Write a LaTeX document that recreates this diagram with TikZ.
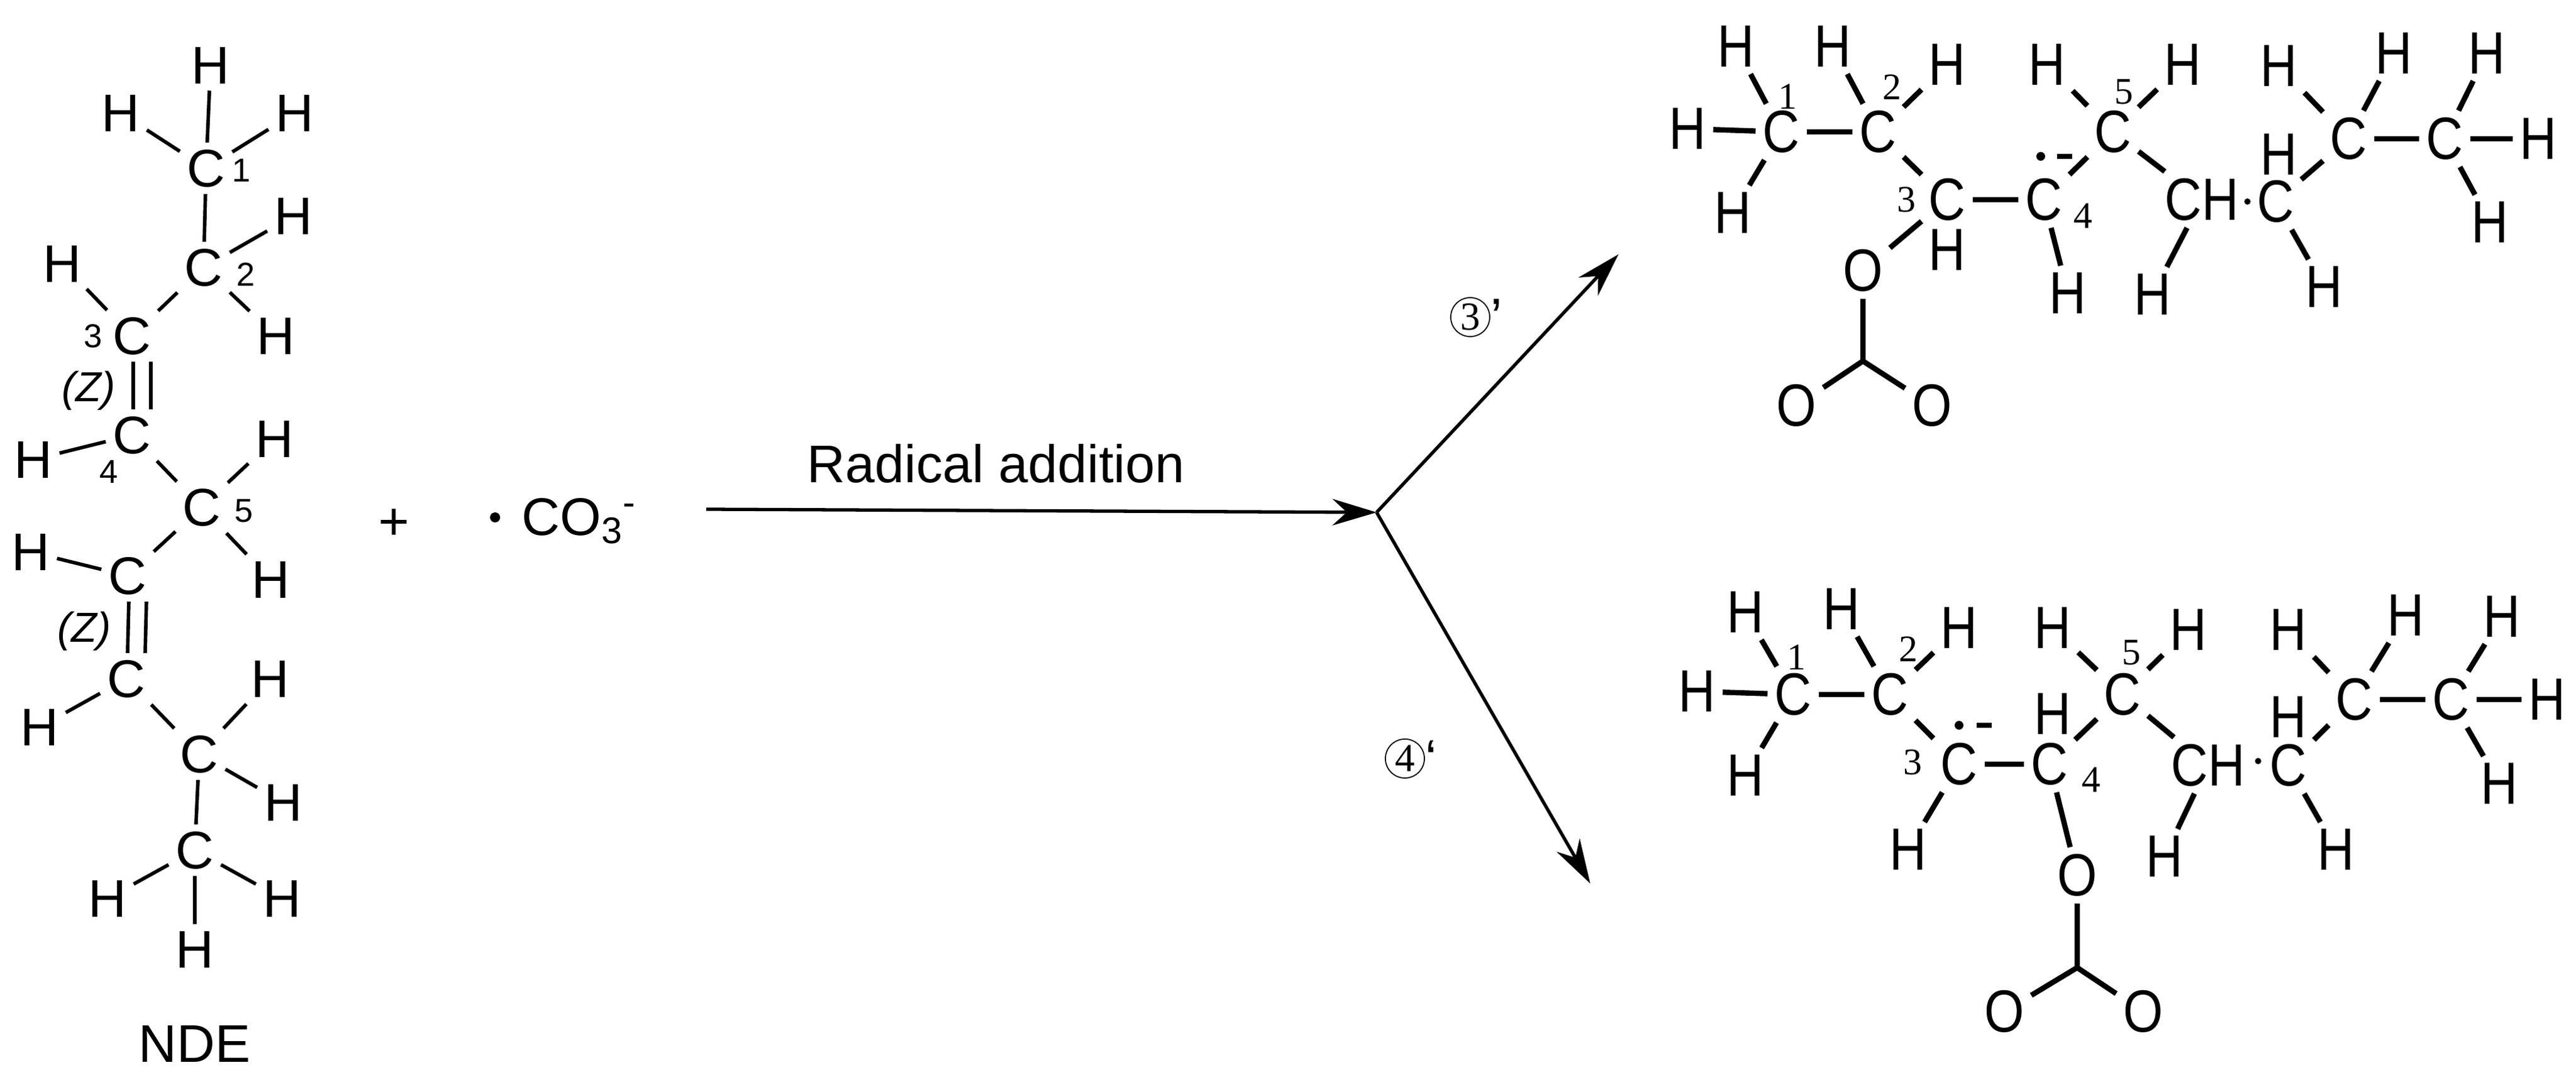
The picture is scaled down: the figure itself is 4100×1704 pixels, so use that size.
\documentclass[tikz,border=0pt]{standalone}
\usepackage{fontspec}
\setmainfont{Liberation Sans}
\newfontfamily\serifnum{Liberation Serif}
\usetikzlibrary{arrows.meta}
\newsavebox\narrowbox
\tikzset{
 la/.style={font=\fontsize{24}{28}\selectfont, inner sep=3pt},
 lnum/.style={font=\fontsize{15}{18}\selectfont, inner sep=0pt},
 ra/.style={font=\fontsize{27}{30}\selectfont, inner sep=3pt, execute at begin node={\setbox\narrowbox\hbox\bgroup}, execute at end node={\egroup\scalebox{0.86}[1]{\usebox\narrowbox}}},
 rnum/.style={font=\serifnum\fontsize{17}{18}\selectfont, inner sep=0pt},
 lb/.style={line width=1.6pt},
 rb/.style={line width=2.4pt},
 arr/.style={line width=1.5pt,-{Stealth[length=20pt,width=12pt]}},
 txt/.style={font=\fontsize{24}{28}\selectfont, inner sep=0pt},
 circ/.style={circle,draw,line width=0.5pt,inner sep=0pt,minimum size=0.62cm,font=\serifnum\fontsize{18}{20}\selectfont},
}
\begin{document}
\begin{tikzpicture}[x=0.01cm,y=-0.01cm]
\useasboundingbox (0,0) rectangle (4100,1704);
% ---------- left molecule ----------
\node[la] (h1t) at (335,104) {H};
\node[la] (h1l) at (192,180) {H};
\node[la] (h1r) at (469,180) {H};
\node[la] (c1) at (328,268) {C};
\node[lnum] at (384,271) {1};
\node[la] (c2) at (324,426) {C};
\node[lnum] at (391,437) {2};
\node[la] (h2a) at (467,344) {H};
\node[la] (h2b) at (439,535) {H};
\node[la] (h3) at (99,420) {H};
\node[la] (c3) at (210,535) {C};
\node[lnum] at (148,535) {3};
\node[txt,font=\itshape\fontsize{19}{22}\selectfont] (z1) at (141,622) {(Z)};
\node[la] (c4) at (210,693) {C};
\node[lnum] at (173,751) {4};
\node[la] (h4) at (53,732) {H};
\node[la] (c5) at (321,808) {C};
\node[lnum] at (388,814) {5};
\node[la] (h5a) at (437,699) {H};
\node[la] (h5b) at (431,923) {H};
\node[la] (h6) at (49,879) {H};
\node[la] (c6) at (203,917) {C};
\node[txt,font=\itshape\fontsize{19}{22}\selectfont] (z2) at (134,1005) {(Z)};
\node[la] (c7) at (201,1081) {C};
\node[la] (h7) at (63,1158) {H};
\node[la] (c8) at (317,1201) {C};
\node[la] (h8a) at (430,1081) {H};
\node[la] (h8b) at (451,1278) {H};
\node[la] (c9) at (310,1354) {C};
\node[la] (h9a) at (171,1431) {H};
\node[la] (h9b) at (449,1431) {H};
\node[la] (h9c) at (310,1512) {H};
\node[la] (nde) at (310,1662) {NDE};
\draw[lb] (c1)--(h1t) (c1)--(h1l) (c1)--(h1r) (c1)--(c2) (c2)--(h2a) (c2)--(h2b)
 (c2)--(c3) (c3)--(h3) (c4)--(h4) (c4)--(c5) (c5)--(h5a) (c5)--(h5b) (c5)--(c6)
 (c6)--(h6) (c7)--(h7) (c7)--(c8) (c8)--(h8a) (c8)--(h8b) (c8)--(c9)
 (c9)--(h9a) (c9)--(h9b) (c9)--(h9c);
\draw[lb] ([xshift=0.02cm]c3.south) -- ([xshift=0.02cm]c4.north);
\draw[lb] ([xshift=0.30cm]c3.south) -- ([xshift=0.30cm]c4.north);
\draw[lb] ([xshift=0.02cm]c6.south) -- ([xshift=0.02cm]c7.north);
\draw[lb] ([xshift=0.30cm]c6.south) -- ([xshift=0.30cm]c7.north);
% plus and carbonate radical
\node[txt] (plus) at (627,835) {+};
\fill (788,824) circle (8);
\node[txt,anchor=west] (co3) at (830,830) {CO\textsubscript{3}\textsuperscript{-}};
% ---------- arrows ----------
\coordinate (a0) at (1124,811);
\coordinate (a1) at (2191,816);
\coordinate (a2) at (2576,405);
\coordinate (a3) at (2531,1407);
\draw[arr] (a0) -- (a1);
\draw[arr] (a1) -- (a2);
\draw[arr] (a1) -- (a3);
\node[txt] (ra) at (1585,738) {Radical addition};
\node[circ] (l3) at (2340,505) {3};
\node[txt,anchor=west] at (l3.east) {'};
\node[circ] (l4) at (2236,1208) {4};
\node[txt,anchor=west] at (l4.east) {`};
% ---------- top product ----------
\node[ra] (t1l) at (2686,205) {H};
\node[ra] (tc1) at (2835,210) {C};
\node[rnum] at (2845,154) {1};
\node[ra] (t1t) at (2763,74) {H};
\node[ra] (t1b) at (2758,339) {H};
\node[ra] (tc2) at (2989,210) {C};
\node[rnum] at (3011,139) {2};
\node[ra] (t2t) at (2917,74) {H};
\node[ra] (t2r) at (3099,103) {H};
\node[ra] (tc3) at (3099,318) {C};
\node[rnum] at (3034,318) {3};
\node[ra] (t3b) at (3099,398) {H};
\node[ra] (to1) at (2965,431) {O};
\coordinate (tcc) at (2965,575);
\node[ra] (to2) at (2859,646) {O};
\node[ra] (to3) at (3075,646) {O};
\node[ra] (tc4) at (3253,318) {C};
\node[rnum] at (3315,344) {4};
\fill (3248,249) circle (7);
\draw[rb] (3274,249) -- (3298,249);
\node[ra] (t4b) at (3291,467) {H};
\node[ra] (tc5) at (3363,210) {C};
\node[rnum] at (3380,146) {5};
\node[ra] (t5a) at (3258,103) {H};
\node[ra] (t5b) at (3474,103) {H};
\node[ra] (tc6) at (3504,318) {CH};
\node[ra] (t6b) at (3426,469) {H};
\fill (3577,321) circle (5);
\node[ra] (tc7) at (3622,321) {C};
\node[ra] (t7b) at (3699,457) {H};
\node[ra] (t7f) at (3627,246) {H};
\node[ra] (tc8) at (3738,221) {C};
\node[ra] (t8a) at (3810,85) {H};
\node[ra] (t8b) at (3627,105) {H};
\node[ra] (tc9) at (3891,221) {C};
\node[ra] (t9a) at (3958,85) {H};
\node[ra] (t9b) at (4040,221) {H};
\node[ra] (t9c) at (3963,354) {H};
\draw[rb] (tc1)--(t1l) (tc1)--(t1t) (tc1)--(t1b) (tc1)--(tc2) (tc2)--(t2t) (tc2)--(t2r)
 (tc2)--(tc3) (tc3)--(to1) (to1)--(tcc) (tcc)--(to2) (tcc)--(to3) (tc3)--(tc4)
 (tc4)--(t4b) (tc4)--(tc5) (tc5)--(t5a) (tc5)--(t5b) (tc5)--(tc6) (tc6)--(t6b)
 (tc7)--(t7b) (tc7)--(tc8) (tc8)--(t8a) (tc8)--(t8b) (tc8)--(tc9)
 (tc9)--(t9a) (tc9)--(t9b) (tc9)--(t9c);
% ---------- bottom product ----------
\node[ra] (b1l) at (2701,1101) {H};
\node[ra] (bc1) at (2854,1106) {C};
\node[rnum] at (2859,1047) {1};
\node[ra] (b1t) at (2778,975) {H};
\node[ra] (b1b) at (2778,1235) {H};
\node[ra] (bc2) at (3008,1106) {C};
\node[rnum] at (3037,1034) {2};
\node[ra] (b2t) at (2931,970) {H};
\node[ra] (b2r) at (3118,1000) {H};
\node[ra] (bc3) at (3118,1217) {C};
\node[rnum] at (3044,1214) {3};
\fill (3118,1155) circle (7);
\draw[rb] (3146,1155) -- (3170,1155);
\node[ra] (b3b) at (3037,1353) {H};
\node[ra] (bc4) at (3262,1217) {C};
\node[rnum] at (3328,1242) {4};
\node[ra] (b4t) at (3267,1137) {H};
\node[ra] (bo1) at (3306,1394) {O};
\coordinate (bcc) at (3306,1541);
\node[ra] (bo2) at (3190,1611) {O};
\node[ra] (bo3) at (3411,1611) {O};
\node[ra] (bc5) at (3378,1106) {C};
\node[rnum] at (3392,1039) {5};
\node[ra] (b5a) at (3267,1000) {H};
\node[ra] (b5b) at (3483,1003) {H};
\node[ra] (bc6) at (3514,1219) {CH};
\node[ra] (b6b) at (3445,1364) {H};
\fill (3594,1212) circle (5);
\node[ra] (bc7) at (3642,1219) {C};
\node[ra] (b7b) at (3718,1353) {H};
\node[ra] (b7f) at (3642,1142) {H};
\node[ra] (bc8) at (3747,1114) {C};
\node[ra] (b8a) at (3829,980) {H};
\node[ra] (b8b) at (3642,1003) {H};
\node[ra] (bc9) at (3901,1114) {C};
\node[ra] (b9a) at (3982,982) {H};
\node[ra] (b9b) at (4054,1114) {H};
\node[ra] (b9c) at (3978,1248) {H};
\draw[rb] (bc1)--(b1l) (bc1)--(b1t) (bc1)--(b1b) (bc1)--(bc2) (bc2)--(b2t) (bc2)--(b2r)
 (bc2)--(bc3) (bc3)--(b3b) (bc3)--(bc4) (bc4)--(bo1) (bo1)--(bcc) (bcc)--(bo2) (bcc)--(bo3)
 (bc4)--(bc5) (bc5)--(b5a) (bc5)--(b5b) (bc5)--(bc6) (bc6)--(b6b)
 (bc7)--(b7b) (bc7)--(bc8) (bc8)--(b8a) (bc8)--(b8b) (bc8)--(bc9)
 (bc9)--(b9a) (bc9)--(b9b) (bc9)--(b9c);
\end{tikzpicture}
\end{document}
